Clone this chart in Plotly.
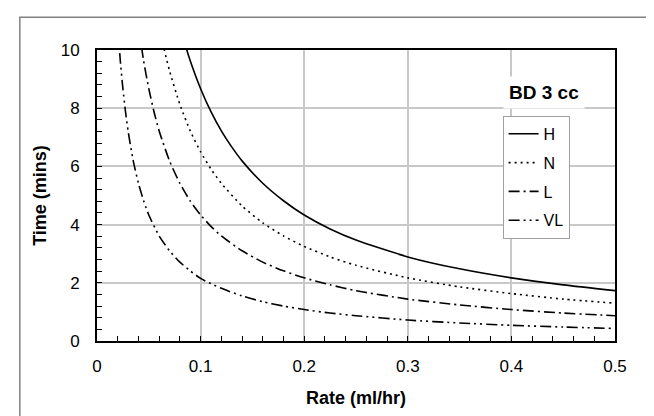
import plotly.graph_objects as go

# Values (Rate ml/hr vs Time mins)
x_H = [0.08, 0.085, 0.09, 0.1, 0.11, 0.12, 0.13, 0.14, 0.16, 0.18, 0.2, 0.225, 0.25, 0.3, 0.35, 0.4, 0.45, 0.5]
y_H = [10.83, 10.2, 9.63, 8.67, 7.88, 7.22, 6.67, 6.19, 5.42, 4.82, 4.33, 3.85, 3.47, 2.89, 2.48, 2.17, 1.93, 1.73]

x_N = [0.06, 0.065, 0.07, 0.08, 0.09, 0.1, 0.11, 0.12, 0.14, 0.16, 0.18, 0.2, 0.225, 0.25, 0.3, 0.35, 0.4, 0.45, 0.5]
y_N = [10.83, 10.0, 9.29, 8.13, 7.22, 6.5, 5.91, 5.42, 4.64, 4.06, 3.61, 3.25, 2.89, 2.6, 2.17, 1.86, 1.63, 1.44, 1.3]

x_L = [0.04, 0.045, 0.05, 0.055, 0.06, 0.07, 0.08, 0.09, 0.1, 0.11, 0.12, 0.14, 0.16, 0.18, 0.2, 0.225, 0.25, 0.3, 0.35, 0.4, 0.45, 0.5]
y_L = [10.83, 9.63, 8.67, 7.88, 7.22, 6.19, 5.42, 4.81, 4.33, 3.94, 3.61, 3.1, 2.71, 2.41, 2.17, 1.93, 1.73, 1.44, 1.24, 1.08, 0.96, 0.87]

x_VL = [0.02, 0.0225, 0.025, 0.0275, 0.03, 0.035, 0.04, 0.045, 0.05, 0.06, 0.07, 0.08, 0.09, 0.1, 0.11, 0.12, 0.14, 0.16, 0.18, 0.2, 0.225, 0.25, 0.3, 0.35, 0.4, 0.45, 0.5]
y_VL = [10.83, 9.63, 8.67, 7.88, 7.22, 6.19, 5.42, 4.82, 4.33, 3.61, 3.1, 2.71, 2.41, 2.15, 1.97, 1.81, 1.55, 1.35, 1.2, 1.08, 0.96, 0.87, 0.72, 0.62, 0.54, 0.48, 0.43]

names = ["H", "N", "L", "VL"]
xs = [x_H, x_N, x_L, x_VL]
ys = [y_H, y_N, y_L, y_VL]
dashes = ["solid", "2px,4px", "11px,4px,2px,4px", "11px,4px,2px,4px,2px,4px"]

x_ticks = [0, 0.1, 0.2, 0.3, 0.4, 0.5]
y_ticks = [0, 2, 4, 6, 8, 10]

FONT = "Liberation Sans, Arial, sans-serif"

fig = go.Figure()
for i, (n, x, y, d) in enumerate(zip(names, xs, ys, dashes)):
    fig.add_trace(go.Scatter(
        x=x, y=y, mode="lines", name=n, legendgroup=n,
        line=dict(color="black", width=1.6, dash=d, shape="spline", smoothing=0.6),
    ))

axis_common = dict(
    showline=True, linecolor="black", linewidth=2, mirror=True,
    showgrid=True, gridcolor="#c8c8c8", gridwidth=1.5,
    zeroline=False, ticks="inside", ticklen=5, tickcolor="black",
    tickfont=dict(family=FONT, size=17, color="black"),
)

fig.update_xaxes(
    range=[0, 0.5], tickvals=x_ticks, ticktext=[str(v) for v in x_ticks],
    minor=dict(dtick=0.02, tick0=0, ticks="inside", ticklen=5, tickcolor="black", showgrid=False),
    title=dict(text="<b>Rate (ml/hr)</b>", font=dict(family=FONT, size=18, color="black"), standoff=16),
    ticklabelstandoff=9,
    **axis_common,
)
fig.update_yaxes(
    range=[0, 10], tickvals=y_ticks, ticktext=[str(v) for v in y_ticks],
    minor=dict(dtick=0.4, tick0=0, ticks="inside", ticklen=5, tickcolor="black", showgrid=False),
    title=dict(text="<b>Time (mins)</b>", font=dict(family=FONT, size=18, color="black"), standoff=9),
    ticklabelstandoff=12,
    **axis_common,
)

fig.add_annotation(
    x=0.431, y=8.55, xref="x", yref="y", text="<b>BD 3 cc</b>", showarrow=False,
    font=dict(family=FONT, size=19, color="black"), bgcolor="white", borderpad=5,
)

# outer frame of the chart
fig.add_shape(type="rect", xref="paper", yref="paper",
              x0=-0.149, x1=1.0835, y0=-0.35, y1=1.1125,
              line=dict(color="#808080", width=1.5), layer="below")

fig.update_layout(
    width=654, height=416,
    margin=dict(l=89, r=47, t=42, b=83),
    paper_bgcolor="white", plot_bgcolor="white",
    showlegend=True,
    legend=dict(
        x=0.783, y=0.7735, xanchor="left", yanchor="top",
        bgcolor="white", bordercolor="#a0a0a0", borderwidth=1,
        font=dict(family=FONT, size=16, color="black"),
        tracegroupgap=5, traceorder="grouped",
        entrywidth=42, entrywidthmode="pixels",
    ),
)

fig.write_html("out.html")
